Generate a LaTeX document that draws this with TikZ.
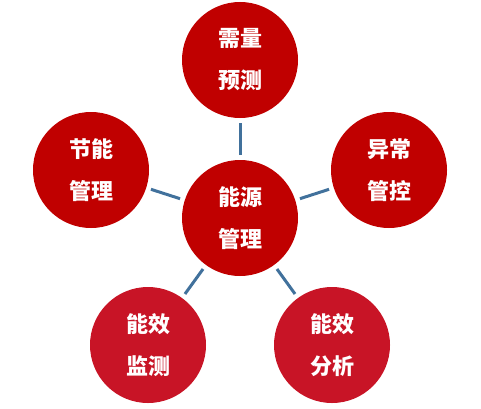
\documentclass[tikz,border=0pt]{standalone}
\usepackage{fontspec}
\newfontfamily\cjk{Noto Sans CJK SC}
\definecolor{darkred}{RGB}{192,0,0}
\definecolor{lightred}{RGB}{200,20,38}
\definecolor{linkblue}{RGB}{65,113,156}
\begin{document}
\begin{tikzpicture}[x=1pt,y=1pt,
  bubble/.style={circle,fill=darkred,minimum size=116pt,inner sep=0pt,outer sep=0pt,
    text=white,align=center,font=\cjk\bfseries\fontsize{22}{42}\selectfont},
  bubblelight/.style={bubble,fill=lightred},
  conn/.style={draw=linkblue,line width=3pt,shorten <=5pt,shorten >=5pt}]
\useasboundingbox (0,0) rectangle (481,408);
\node[bubble] (c) at (240,190) {能源\\管理};
\node[bubble] (t) at (240,348) {需量\\预测};
\node[bubble] (l) at (91,238) {节能\\管理};
\node[bubble] (r) at (389,238) {异常\\管控};
\node[bubblelight] (bl) at (148,63) {能效\\监测};
\node[bubblelight] (br) at (332,63) {能效\\分析};
\draw[conn] (c) -- (t);
\draw[conn] (c) -- (l);
\draw[conn] (c) -- (r);
\draw[conn] (c) -- (bl);
\draw[conn] (c) -- (br);
\end{tikzpicture}
\end{document}
